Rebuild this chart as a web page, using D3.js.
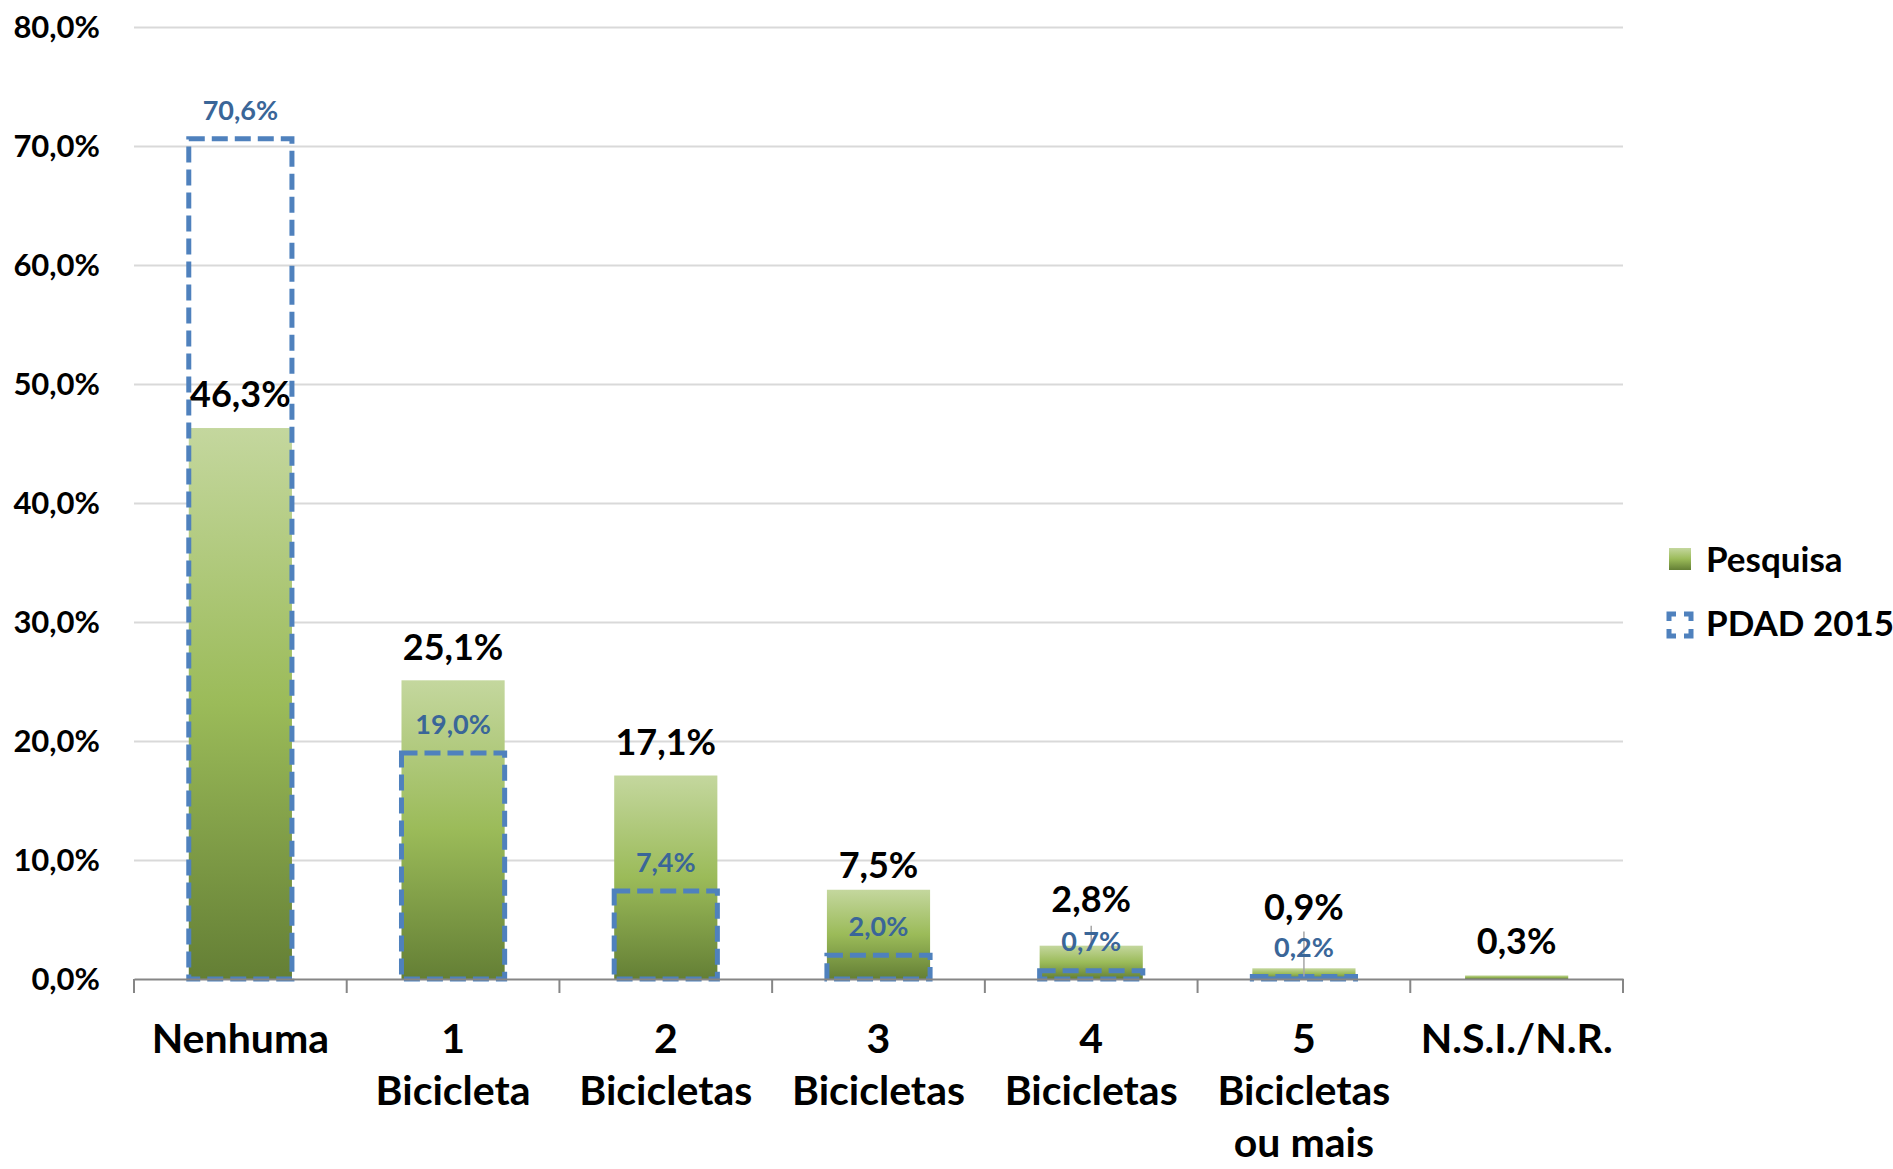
<!DOCTYPE html>
<html lang="pt">
<head>
<meta charset="UTF-8">
<title>Bicicletas por domicílio</title>
<script src="https://d3js.org/d3.v7.min.js"></script>
<style>
  body { margin: 0; background: #fff; }
  svg text { font-family: Lato, "Open Sans", sans-serif; font-weight: bold; }
  .grid line { stroke: #d9d9d9; stroke-width: 2; }
  .grid path { display: none; }
</style>
</head>
<body>
<svg id="chart"></svg>
<script>
// data
const categories = ["Nenhuma", "1\nBicicleta", "2\nBicicletas", "3\nBicicletas", "4\nBicicletas", "5\nBicicletas\nou mais", "N.S.I./N.R."];
const pesquisa = [46.3, 25.1, 17.1, 7.5, 2.8, 0.9, 0.3];
const pdad2015 = [70.6, 19.0, 7.4, 2.0, 0.7, 0.2, null];
const yTicks = [0, 10, 20, 30, 40, 50, 60, 70, 80];
const seriesNames = ["Pesquisa", "PDAD 2015"];

// label lift above bar top (px), labels were hand-placed in the original
const pesquisaLift = [34, 33, 33, 25, 47, 61, 34];
const pdadLift = [29, 29, 29, 29, 29, 29, 29];
const pdadLeader = [null, null, null, null, "label", "bar", null];

const width = 1893, height = 1169;
const margin = { top: 27, right: 270, bottom: 190, left: 134 };

const svg = d3.select("#chart").attr("width", width).attr("height", height);

const x = d3.scaleBand()
    .domain(categories)
    .range([margin.left, width - margin.right])
    .paddingInner(0).paddingOuter(0);

const y = d3.scaleLinear()
    .domain([0, 80])
    .range([height - margin.bottom, margin.top]);

const barW = x.bandwidth() * 0.485;
const cx = c => x(c) + x.bandwidth() / 2;
const fmt = v => v.toFixed(1).replace(".", ",") + "%";

// gradient for the green bars
const defs = svg.append("defs");
const grad = defs.append("linearGradient")
    .attr("id", "green").attr("x1", 0).attr("y1", 0).attr("x2", 0).attr("y2", 1);
grad.append("stop").attr("offset", "0%").attr("stop-color", "#c4d79e");
grad.append("stop").attr("offset", "50%").attr("stop-color", "#9bbb59");
grad.append("stop").attr("offset", "100%").attr("stop-color", "#647f35");

// gridlines
svg.append("g")
    .attr("class", "grid")
    .attr("transform", `translate(${margin.left},0)`)
    .call(d3.axisLeft(y).tickValues(yTicks.slice(1)).tickSize(-(width - margin.right - margin.left)).tickFormat(""));

// y tick labels
svg.append("g")
    .selectAll("text")
    .data(yTicks)
    .join("text")
    .attr("x", 100)
    .attr("y", d => y(d))
    .attr("dy", "0.36em")
    .attr("text-anchor", "end")
    .attr("font-size", 31)
    .attr("fill", "#000")
    .text(d => d.toFixed(1).replace(".", ",") + "%");

// Pesquisa bars
svg.append("g")
    .selectAll("rect")
    .data(categories)
    .join("rect")
    .attr("x", c => cx(c) - barW / 2)
    .attr("y", (c, i) => y(pesquisa[i]))
    .attr("width", barW)
    .attr("height", (c, i) => y(0) - y(pesquisa[i]))
    .attr("fill", "url(#green)");

// PDAD dashed outlines
svg.append("g")
    .selectAll("rect")
    .data(categories.filter((c, i) => pdad2015[i] != null))
    .join("rect")
    .attr("x", c => cx(c) - barW / 2)
    .attr("y", c => y(pdad2015[categories.indexOf(c)]))
    .attr("width", barW)
    .attr("height", c => y(0) - y(pdad2015[categories.indexOf(c)]))
    .attr("fill", "none")
    .attr("stroke", "#4f81bd")
    .attr("stroke-width", 5)
    .attr("stroke-dasharray", "16 7");

// x axis
const xAxis = svg.append("g")
    .attr("transform", `translate(0,${y(0)})`)
    .call(d3.axisBottom(x).tickSize(0).tickFormat(""));
xAxis.select(".domain").attr("stroke", "#868686").attr("stroke-width", 2);
const tickPos = categories.map(c => x(c)).concat([x.range()[1]]);
xAxis.selectAll(".sep")
    .data(tickPos)
    .join("line")
    .attr("class", "sep")
    .attr("x1", d => d).attr("x2", d => d)
    .attr("y1", 0).attr("y2", 14)
    .attr("stroke", "#868686").attr("stroke-width", 2);

// category labels (multi-line)
const catLabels = svg.append("g")
    .selectAll("text")
    .data(categories)
    .join("text")
    .attr("x", c => cx(c))
    .attr("y", 1053)
    .attr("text-anchor", "middle")
    .attr("font-size", 41)
    .attr("fill", "#000");
catLabels.each(function(c) {
    const lines = c.split("\n");
    d3.select(this).selectAll("tspan")
        .data(lines)
        .join("tspan")
        .attr("x", cx(c))
        .attr("dy", (d, i) => i === 0 ? 0 : 52)
        .text(d => d);
});

// leader lines for the two small PDAD labels
svg.append("g")
    .selectAll("line")
    .data(categories.filter((c, i) => pdadLeader[i]))
    .join("line")
    .attr("x1", c => cx(c)).attr("x2", c => cx(c))
    .attr("y1", c => { const i = categories.indexOf(c); return y(pdad2015[i]) - pdadLift[i] - 16; })
    .attr("y2", c => {
        const i = categories.indexOf(c);
        const ly = y(pdad2015[i]) - pdadLift[i];
        return pdadLeader[i] === "bar" ? y(pdad2015[i]) : ly + 8;
    })
    .attr("stroke", "#a6a6a6").attr("stroke-width", 1.5);

// PDAD labels
svg.append("g")
    .selectAll("text")
    .data(categories.filter((c, i) => pdad2015[i] != null))
    .join("text")
    .attr("x", c => cx(c))
    .attr("y", c => { const i = categories.indexOf(c); return y(pdad2015[i]) - pdadLift[i]; })
    .attr("dy", "0.36em")
    .attr("text-anchor", "middle")
    .attr("font-size", 27)
    .attr("fill", "#3a6698")
    .text(c => fmt(pdad2015[categories.indexOf(c)]));

// Pesquisa labels
svg.append("g")
    .selectAll("text")
    .data(categories)
    .join("text")
    .attr("x", c => cx(c))
    .attr("y", (c, i) => y(pesquisa[i]) - pesquisaLift[i])
    .attr("dy", "0.36em")
    .attr("text-anchor", "middle")
    .attr("font-size", 36)
    .attr("fill", "#000")
    .text((c, i) => fmt(pesquisa[i]));

// legend
const legend = svg.append("g").attr("transform", "translate(1668,0)");
legend.append("rect")
    .attr("x", 1).attr("y", 548).attr("width", 22).attr("height", 22)
    .attr("fill", "url(#green)");
legend.append("rect")
    .attr("x", 1).attr("y", 614).attr("width", 22).attr("height", 22)
    .attr("fill", "none").attr("stroke", "#4f81bd").attr("stroke-width", 5)
    .attr("stroke-dasharray", "14 8").attr("stroke-dashoffset", 7);
legend.selectAll(".lab")
    .data(seriesNames)
    .join("text")
    .attr("class", "lab")
    .attr("x", 38)
    .attr("y", (d, i) => 559 + i * 64)
    .attr("dy", "0.36em")
    .attr("font-size", 35)
    .attr("fill", "#000")
    .text(d => d);
</script>
</body>
</html>
